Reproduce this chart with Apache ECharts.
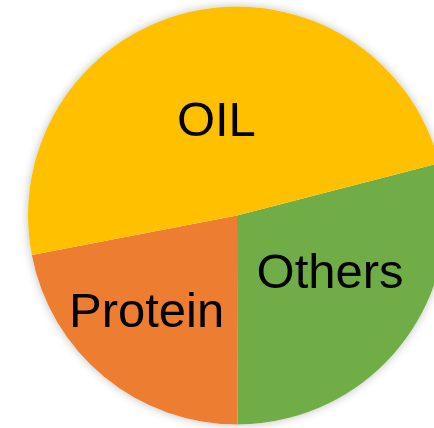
<!DOCTYPE html>
<html>
<head>
<meta charset="utf-8">
<script src="https://cdn.jsdelivr.net/npm/echarts@6/dist/echarts.min.js"></script>
<style>
  html, body { margin: 0; padding: 0; background: #fff; }
  #chart { width: 434px; height: 428px; }
</style>
</head>
<body>
<div id="chart"></div>
<script>
  // slices, clockwise from the right-hand edge
  var names = ['Others', 'Protein', 'OIL'];
  var values = [29, 22, 49];
  var colors = ['#70AD47', '#ED7D31', '#FFC000'];

  // nudge labels off the default mid-radius spot
  var labelShift = [[8, -7], [-22, 15], [3, 12]];

  var chart = echarts.init(document.getElementById('chart'));

  var data = names.map(function (n, i) {
    return { name: n, value: values[i], itemStyle: { color: colors[i] } };
  });

  var option = {
    animation: false,
    series: [
      {
        // soft halo behind the pie
        type: 'pie',
        silent: true,
        center: [237, 215.5],
        radius: 209,
        z: 1,
        label: { show: false },
        labelLine: { show: false },
        itemStyle: {
          color: '#ffffff',
          shadowBlur: 10,
          shadowColor: 'rgba(0,0,0,0.25)'
        },
        data: [{ name: '', value: 1 }]
      },
      {
        type: 'pie',
        center: [237, 215.5],
        radius: 209,
        startAngle: 14.5,
        clockwise: true,
        z: 2,
        itemStyle: { borderWidth: 0 },
        emphasis: { disabled: true },
        label: {
          show: true,
          position: 'inside',
          formatter: '{b}',
          color: '#000',
          fontFamily: 'Liberation Sans, Arial, sans-serif',
          fontSize: 49
        },
        labelLine: { show: false },
        labelLayout: function (params) {
          var s = labelShift[params.dataIndex];
          return { dx: s[0], dy: s[1] };
        },
        data: data
      }
    ]
  };

  chart.setOption(option);
</script>
</body>
</html>
